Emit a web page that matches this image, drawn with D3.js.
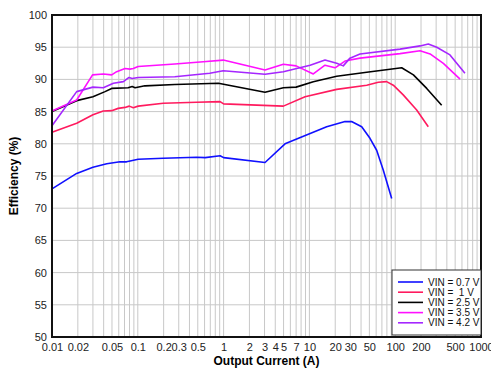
<!DOCTYPE html>
<html>
<head>
<meta charset="utf-8">
<script src="https://cdn.jsdelivr.net/npm/d3@7"></script>
<style>
  body { margin: 0; background: #fff; }
  text { font-family: "Liberation Sans", Arial, sans-serif; }
</style>
</head>
<body>
<div id="chart"></div>
<script>
// tick labels
var xTicks = [0.01, 0.02, 0.05, 0.1, 0.2, 0.3, 0.5, 1, 2, 3, 4, 5, 7, 10, 20, 30, 50, 100, 200, 500, 1000];
var yTicks = [50, 55, 60, 65, 70, 75, 80, 85, 90, 95, 100];
var seriesNames = ["VIN = 0.7 V", "VIN =  1 V", "VIN = 2.5 V", "VIN = 3.5 V", "VIN = 4.2 V"];
var seriesColors = ["#1010ff", "#ff1a5e", "#000000", "#ff10ff", "#a526ff"];

// VIN = 0.7 V
var i07 = [0.01, 0.0194, 0.030, 0.0435, 0.062, 0.074, 0.101, 0.198, 0.485, 0.61, 0.91, 1.0, 3.04, 5.2, 15.9, 26, 31, 40.7, 50.8, 60.8, 72.7, 91];
var e07 = [73.0, 75.4, 76.35, 76.9, 77.2, 77.2, 77.6, 77.75, 77.9, 77.85, 78.15, 77.85, 77.1, 80.0, 82.65, 83.45, 83.45, 82.65, 80.85, 79.0, 75.9, 71.5];
// VIN = 1 V
var i10 = [0.01, 0.0194, 0.030, 0.0396, 0.0496, 0.059, 0.071, 0.0795, 0.0886, 0.101, 0.198, 0.485, 0.91, 1.0, 4.97, 8.9, 20.8, 46.6, 63.5, 79.4, 95, 124, 178, 243];
var e10 = [81.8, 83.2, 84.5, 85.1, 85.15, 85.5, 85.65, 85.85, 85.6, 85.85, 86.3, 86.45, 86.55, 86.2, 85.85, 87.3, 88.45, 89.1, 89.55, 89.65, 89.1, 87.6, 85.25, 82.65];
// VIN = 2.5 V
var i25 = [0.01, 0.0194, 0.030, 0.0415, 0.0496, 0.077, 0.086, 0.093, 0.121, 0.27, 0.87, 3.04, 4.97, 7.0, 11.1, 20.8, 46.6, 119, 163, 233, 348];
var e25 = [85.0, 86.7, 87.3, 88.1, 88.6, 88.7, 88.9, 88.7, 89.0, 89.2, 89.4, 88.0, 88.7, 88.8, 89.65, 90.5, 91.1, 91.8, 90.7, 88.6, 86.0];
// VIN = 3.5 V
var i35 = [0.01, 0.0194, 0.0297, 0.0396, 0.0496, 0.0567, 0.071, 0.081, 0.0886, 0.101, 0.27, 0.58, 0.99, 3.04, 4.97, 7.0, 11.1, 15.2, 19.9, 26, 38.9, 114, 195, 255, 364, 570];
var e35 = [85.1, 86.8, 90.7, 90.85, 90.7, 91.2, 91.7, 91.6, 91.7, 92.0, 92.4, 92.75, 93.0, 91.45, 92.35, 92.1, 90.85, 92.2, 91.8, 92.85, 93.3, 94.0, 94.45, 93.95, 92.5, 90.05];
// VIN = 4.2 V
var i42 = [0.01, 0.0194, 0.030, 0.0396, 0.052, 0.068, 0.079, 0.086, 0.101, 0.27, 0.69, 0.99, 3.04, 4.97, 10.2, 15.2, 20.8, 24.8, 29.7, 38.9, 114, 195, 243, 305, 435, 650];
var e42 = [82.8, 88.1, 88.8, 88.7, 89.4, 89.65, 90.3, 90.15, 90.3, 90.4, 90.95, 91.35, 90.8, 91.2, 92.2, 93.0, 92.5, 92.1, 93.3, 93.95, 94.7, 95.2, 95.5, 95.0, 93.8, 90.95];

var currents = [i07, i10, i25, i35, i42];
var effs = [e07, e10, e25, e35, e42];

var width = 491, height = 370;
var margin = {top: 15, right: 10, bottom: 33, left: 52};

var svg = d3.select("#chart").append("svg")
  .attr("width", width)
  .attr("height", height);

var x = d3.scaleLog()
  .domain([0.01, 1000])
  .range([margin.left, width - margin.right]);

var y = d3.scaleLinear()
  .domain([50, 100])
  .range([height - margin.bottom, margin.top]);

// grid
var minor = [];
for (var dec = -2; dec < 3; dec++) {
  for (var m = 1; m < 10; m++) {
    minor.push(m * Math.pow(10, dec));
  }
}
minor.push(1000);

svg.append("g")
  .selectAll("line")
  .data(minor)
  .enter().append("line")
  .attr("x1", function(d) { return x(d); })
  .attr("x2", function(d) { return x(d); })
  .attr("y1", y(50))
  .attr("y2", y(100))
  .attr("stroke", "#c8c8c8")
  .attr("stroke-width", 1);

svg.append("g")
  .selectAll("line")
  .data(yTicks)
  .enter().append("line")
  .attr("x1", x(0.01))
  .attr("x2", x(1000))
  .attr("y1", function(d) { return y(d); })
  .attr("y2", function(d) { return y(d); })
  .attr("stroke", "#c8c8c8")
  .attr("stroke-width", 1);

// axes
var xAxis = svg.append("g")
  .attr("transform", "translate(0," + y(50) + ")")
  .call(d3.axisBottom(x).tickValues(xTicks).tickSize(0).tickPadding(6)
    .tickFormat(function(d) { return String(+d.toPrecision(3)); }));
xAxis.select(".domain").remove();
xAxis.selectAll("text").style("font-size", "11px").attr("fill", "#222");

var yAxis = svg.append("g")
  .attr("transform", "translate(" + x(0.01) + ",0)")
  .call(d3.axisLeft(y).tickValues(yTicks).tickSize(0).tickPadding(5));
yAxis.select(".domain").remove();
yAxis.selectAll("text").style("font-size", "11px").attr("fill", "#222");

// lines
var line = d3.line()
  .x(function(d) { return x(d[0]); })
  .y(function(d) { return y(d[1]); });

for (var s = 0; s < currents.length; s++) {
  var pts = d3.zip(currents[s], effs[s]);
  svg.append("path")
    .datum(pts)
    .attr("d", line)
    .attr("fill", "none")
    .attr("stroke", seriesColors[s])
    .attr("stroke-width", 1.6)
    .attr("stroke-linejoin", "round");
}

// frame
svg.append("rect")
  .attr("x", x(0.01))
  .attr("y", y(100))
  .attr("width", x(1000) - x(0.01))
  .attr("height", y(50) - y(100))
  .attr("fill", "none")
  .attr("stroke", "#111")
  .attr("stroke-width", 2);

// legend
var lg = svg.append("g").attr("transform", "translate(392,270)");
lg.append("rect")
  .attr("width", 89)
  .attr("height", 65)
  .attr("fill", "#fff")
  .attr("stroke", "#333")
  .attr("stroke-width", 1);

var rows = lg.selectAll("g.row")
  .data(seriesNames)
  .enter().append("g")
  .attr("class", "row")
  .attr("transform", function(d, i) { return "translate(0," + (12 + i * 10.2) + ")"; });

rows.append("line")
  .attr("x1", 6).attr("x2", 31)
  .attr("stroke", function(d, i) { return seriesColors[i]; })
  .attr("stroke-width", 1.6);

rows.append("text")
  .attr("x", 36)
  .attr("dy", "0.35em")
  .style("font-size", "10px")
  .style("white-space", "pre")
  .attr("fill", "#111")
  .text(function(d) { return d; });

// axis titles
svg.append("text")
  .attr("x", (x(0.01) + x(1000)) / 2)
  .attr("y", 365)
  .attr("text-anchor", "middle")
  .style("font-size", "12px")
  .style("font-weight", "bold")
  .text("Output Current (A)");

svg.append("text")
  .attr("transform", "translate(18," + ((y(50) + y(100)) / 2) + ")rotate(-90)")
  .attr("text-anchor", "middle")
  .style("font-size", "12px")
  .style("font-weight", "bold")
  .text("Efficiency (%)");
</script>
</body>
</html>
